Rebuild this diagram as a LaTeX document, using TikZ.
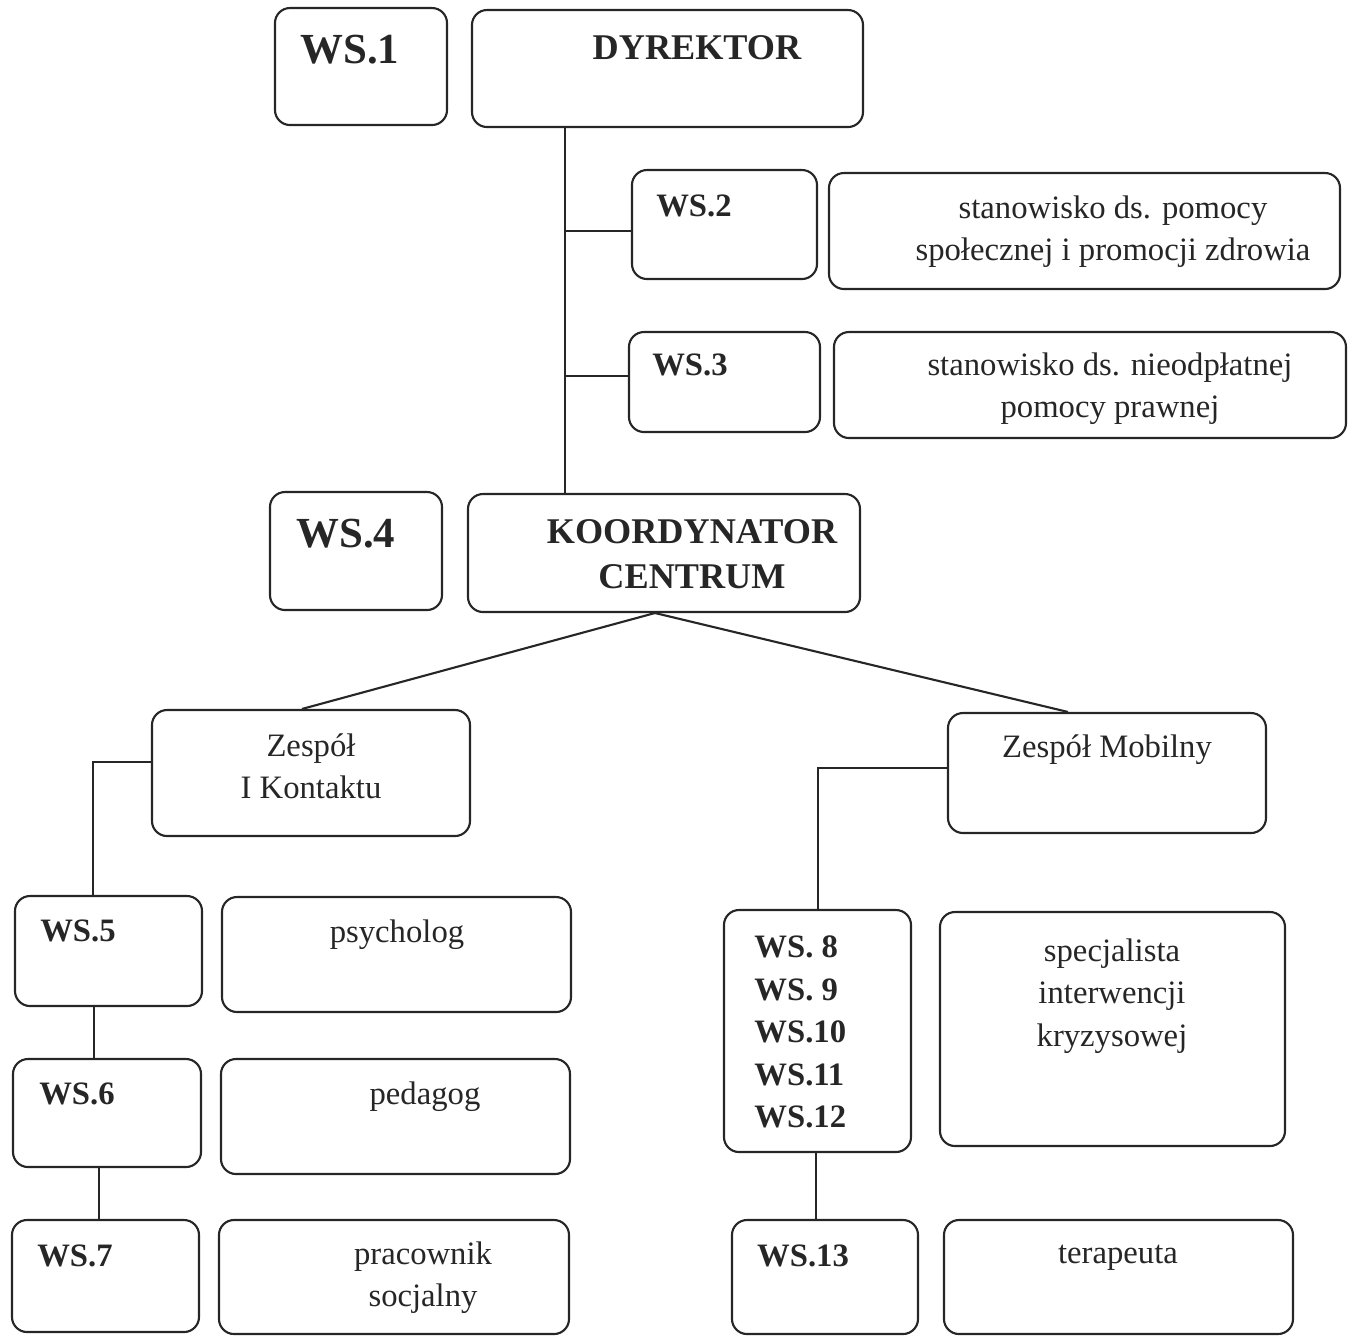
\documentclass[tikz,border=0pt]{standalone}
\usepackage{fontspec}
\setmainfont{Liberation Serif}
\definecolor{ink}{HTML}{262626}
\tikzset{
  box/.style={draw=ink, rounded corners=0.15cm, line width=0.6pt, inner sep=0pt},
  wire/.style={draw=ink, line width=0.6pt},
  wsbig/.style={text=ink, font=\fontsize{12.2}{14}\selectfont\bfseries},
  head/.style={text=ink, align=center, font=\fontsize{10.3}{12.8}\selectfont\bfseries},
  ws/.style={text=ink, align=left, font=\fontsize{9.3}{12.1}\selectfont\bfseries},
  job/.style={text=ink, align=center, font=\fontsize{9.3}{12}\selectfont},
}
\begin{document}
\begin{tikzpicture}
\useasboundingbox (0,0) rectangle (13.53,-13.35);
% boxes
\node[box, minimum width=1.72cm, minimum height=1.17cm] (ws1) at (3.61,-0.665) {};
\node[box, minimum width=3.91cm, minimum height=1.17cm] (dyr) at (6.675,-0.685) {};
\node[box, minimum width=1.85cm, minimum height=1.09cm] (ws2) at (7.245,-2.245) {};
\node[box, minimum width=5.11cm, minimum height=1.16cm] (spol) at (10.845,-2.31) {};
\node[box, minimum width=1.91cm, minimum height=1.00cm] (ws3) at (7.245,-3.82) {};
\node[box, minimum width=5.12cm, minimum height=1.06cm] (praw) at (10.9,-3.85) {};
\node[box, minimum width=1.72cm, minimum height=1.18cm] (ws4) at (3.56,-5.51) {};
\node[box, minimum width=3.92cm, minimum height=1.18cm] (koord) at (6.64,-5.53) {};
\node[box, minimum width=3.18cm, minimum height=1.26cm] (kontakt) at (3.11,-7.73) {};
\node[box, minimum width=3.18cm, minimum height=1.20cm] (mobil) at (11.07,-7.73) {};
\node[box, minimum width=1.87cm, minimum height=1.10cm] (ws5) at (1.085,-9.51) {};
\node[box, minimum width=3.49cm, minimum height=1.15cm] (psych) at (3.965,-9.545) {};
\node[box, minimum width=1.88cm, minimum height=1.08cm] (ws6) at (1.07,-11.13) {};
\node[box, minimum width=3.49cm, minimum height=1.15cm] (pedag) at (3.955,-11.165) {};
\node[box, minimum width=1.87cm, minimum height=1.12cm] (ws7) at (1.055,-12.76) {};
\node[box, minimum width=3.50cm, minimum height=1.14cm] (socj) at (3.94,-12.77) {};
\node[box, minimum width=1.87cm, minimum height=2.42cm] (ws8) at (8.175,-10.31) {};
\node[box, minimum width=3.45cm, minimum height=2.34cm] (kryz) at (11.125,-10.29) {};
\node[box, minimum width=1.86cm, minimum height=1.14cm] (ws13) at (8.25,-12.77) {};
\node[box, minimum width=3.49cm, minimum height=1.14cm] (terap) at (11.185,-12.77) {};
% texts
\node[wsbig] (ws1t) at (3.50,-0.50) {WS.1};
\node[head] (dyrt) at (6.97,-0.48) {DYREKTOR};
\node[ws] (ws2t) at (6.94,-2.06) {WS.2};
\node[job] (spolt) at (11.13,-2.32) {stanowisko ds. pomocy\\społecznej i promocji zdrowia};
\node[ws] (ws3t) at (6.90,-3.65) {WS.3};
\node[job] (prawt) at (11.10,-3.885) {stanowisko ds. nieodpłatnej\\pomocy prawnej};
\node[wsbig] (ws4t) at (3.46,-5.34) {WS.4};
\node[head] (koordt) at (6.92,-5.545) {KOORDYNATOR\\CENTRUM};
\node[job] (kontaktt) at (3.11,-7.66) {Zespół\\I Kontaktu};
\node[job] (mobilt) at (11.07,-7.50) {Zespół Mobilny};
\node[ws] (ws5t) at (0.78,-9.31) {WS.5};
\node[job] (psycht) at (3.97,-9.35) {psycholog};
\node[ws] (ws6t) at (0.77,-10.94) {WS.6};
\node[job] (pedagt) at (4.25,-10.97) {pedagog};
\node[ws] (ws7t) at (0.75,-12.56) {WS.7};
\node[job] (socjt) at (4.23,-12.78) {pracownik\\socjalny};
\node[ws, anchor=west] (ws8t) at (7.42,-10.32) {WS. 8\\WS. 9\\WS.10\\WS.11\\WS.12};
\node[job] (kryzt) at (11.12,-9.96) {specjalista\\interwencji\\kryzysowej};
\node[ws] (ws13t) at (8.03,-12.56) {WS.13};
\node[job] (terapt) at (11.18,-12.58) {terapeuta};
% connectors
\coordinate (top) at (5.65,0);
\coordinate (j2) at (5.65,-2.31);
\coordinate (j3) at (5.65,-3.76);
\coordinate (split) at (6.55,-6.13);
\coordinate (kl) at (0.93,-7.62);
\coordinate (ml) at (8.18,-7.68);
\coordinate (c56) at (0.94,0);
\coordinate (c67) at (0.99,0);
\coordinate (c813) at (8.16,0);
\draw[wire] (dyr.south -| top) -- (koord.north -| top);
\draw[wire] (j2) -- (j2 -| ws2.west);
\draw[wire] (j3) -- (j3 -| ws3.west);
\draw[wire] (split) -- (kontakt.north -| 3.02,0);
\draw[wire] (split) -- (mobil.north -| 10.68,0);
\draw[wire] (kontakt.west |- kl) -- (kl) -- (kl |- ws5.north);
\draw[wire] (mobil.west |- ml) -- (ml) -- (ml |- ws8.north);
\draw[wire] (ws5.south -| c56) -- (ws6.north -| c56);
\draw[wire] (ws6.south -| c67) -- (ws7.north -| c67);
\draw[wire] (ws8.south -| c813) -- (ws13.north -| c813);
\end{tikzpicture}
\end{document}
